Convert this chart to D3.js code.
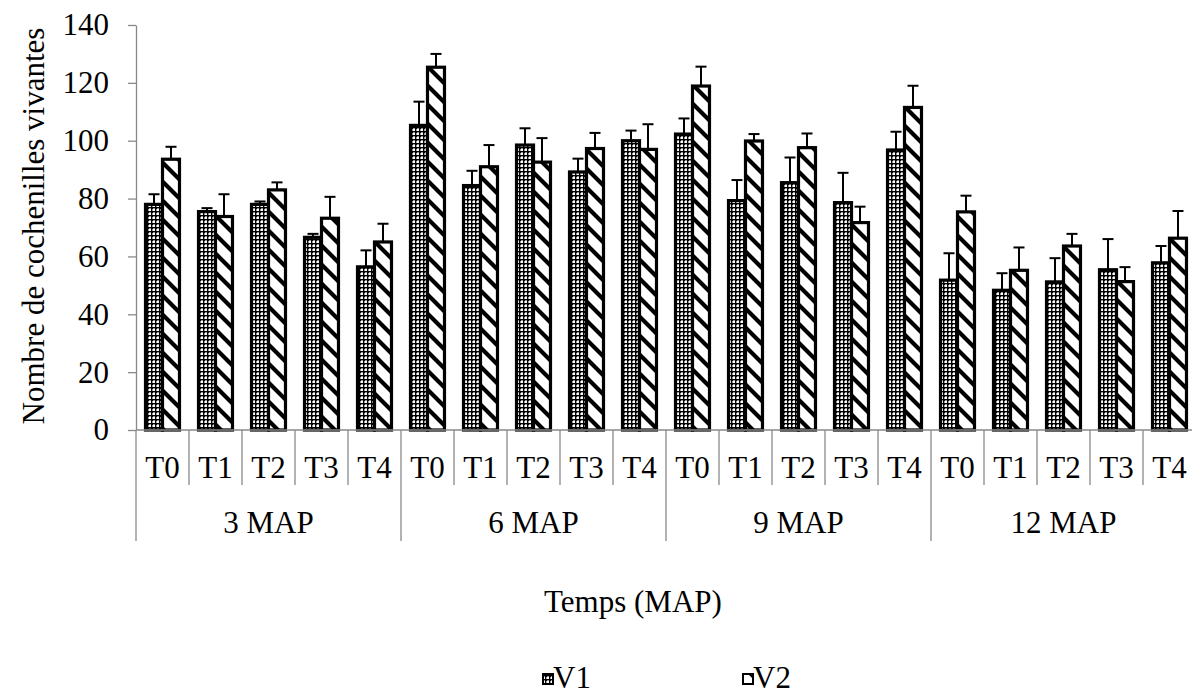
<!DOCTYPE html>
<html><head><meta charset="utf-8">
<script src="https://cdn.jsdelivr.net/npm/d3@7"></script>
<style>
html,body{margin:0;padding:0;background:#fff;overflow:hidden}
text{font-family:"Liberation Serif","Times New Roman",serif;fill:#000}
</style></head>
<body>
<svg id="c" width="1192" height="696"></svg>
<script>
const groups = ["3 MAP","6 MAP","9 MAP","12 MAP"];
const treatments = ["T0","T1","T2","T3","T4"];
const series = ["V1","V2"];
const v1 = [78,75.5,78,66.6,56.4, 105.3,84.5,98.5,89.2,100, 102.3,79.3,85.5,78.6,96.8, 51.8,48.3,51.2,55.4,57.8];
const v1err = [3.5,1.2,1,1.2,5.7, 8.2,5.1,5.8,4.6,3.5, 5.4,7.1,8.7,10.3,6.3, 9.3,5.9,8.2,10.6,5.8];
const v2 = [93.6,73.8,83,73.2,65, 125.4,91,92.6,97.3,97, 118.9,99.9,97.6,71.7,111.5, 75.4,55.2,63.6,51.3,66.3];
const v2err = [4.3,7.7,2.6,7.4,6.3, 4.6,7.5,8.3,5.4,8.7, 6.7,2.4,4.9,5.5,7.5, 5.6,7.9,4.2,5,9.4];
const yTicks = [0,20,40,60,80,100,120,140];

const cats = [];
groups.forEach((g,gi)=>treatments.forEach((t,ti)=>cats.push({g,t,i:gi*5+ti})));
const rows = cats.map((c,i)=>({...c, V1:v1[i], V1e:v1err[i], V2:v2[i], V2e:v2err[i]}));

const FS = "31px";
const svg = d3.select("#c");
const defs = svg.append("defs");
// V1 pattern: small check/dots
const p1 = defs.append("pattern").attr("id","pV1").attr("patternUnits","userSpaceOnUse").attr("width",4).attr("height",4);
p1.append("rect").attr("width",4).attr("height",4).attr("fill","#000");
p1.append("rect").attr("x",1).attr("y",1).attr("width",2).attr("height",2).attr("fill","#fff");
p1.append("rect").attr("x",1).attr("y",0).attr("width",2).attr("height",1).attr("fill","#9a9a9a");
p1.append("rect").attr("x",0).attr("y",1).attr("width",1).attr("height",2).attr("fill","#9a9a9a");
// V2 pattern: "\" diagonal stripes
const P=19;
const p2 = defs.append("pattern").attr("id","pV2").attr("patternUnits","userSpaceOnUse").attr("width",P).attr("height",P);
p2.append("rect").attr("width",P).attr("height",P).attr("fill","#fff");
p2.append("path").attr("d",`M${-P/2},${P/2} L${P/2},${P*1.5} M0,0 L${P},${P} M${P/2},${-P/2} L${P*1.5},${P/2}`)
  .attr("stroke","#000").attr("stroke-width",4.2);

const x = d3.scaleBand().domain(d3.range(20)).range([136,1196]).padding(0);
const xs = d3.scaleBand().domain(series).range([0,x.bandwidth()]).paddingInner(0).paddingOuter(0.56);
const y = d3.scaleLinear().domain([0,140]).range([430,25]);
const axisColor = "#898989";

// y axis
const ya = svg.append("g").attr("transform","translate(136,0)")
  .call(d3.axisLeft(y).tickValues(yTicks).tickSize(8).tickSizeOuter(0).tickPadding(19));
ya.select(".domain").attr("stroke",axisColor).attr("stroke-width",1.3);
ya.selectAll(".tick line").attr("stroke",axisColor).attr("stroke-width",1.3);
ya.selectAll(".tick text").style("font-size",FS).style("font-family","Liberation Serif").attr("fill","#000");

// bars
const gBars = svg.append("g");
series.forEach(s=>{
  gBars.selectAll(null).data(rows).enter().append("rect")
    .attr("x",d=>x(d.i)+xs(s))
    .attr("y",d=>y(d[s]))
    .attr("width",xs.bandwidth())
    .attr("height",d=>y(0)-y(d[s]))
    .attr("fill",`url(#p${s})`)
    .attr("stroke","#000").attr("stroke-width",3.2);
});
// error bars
series.forEach(s=>{
  const cx = d=>x(d.i)+xs(s)+xs.bandwidth()/2;
  gBars.selectAll(null).data(rows).enter().append("line")
    .attr("x1",cx).attr("x2",cx)
    .attr("y1",d=>y(d[s])).attr("y2",d=>y(d[s]+d[s+"e"]))
    .attr("stroke","#000").attr("stroke-width",2);
  gBars.selectAll(null).data(rows).enter().append("line")
    .attr("x1",d=>cx(d)-5.5).attr("x2",d=>cx(d)+5.5)
    .attr("y1",d=>y(d[s]+d[s+"e"])).attr("y2",d=>y(d[s]+d[s+"e"]))
    .attr("stroke","#000").attr("stroke-width",2);
});

// x axis
const xa = svg.append("g");
xa.append("line").attr("x1",136).attr("x2",1196).attr("y1",y(0)).attr("y2",y(0)).attr("stroke",axisColor).attr("stroke-width",1.3);
xa.append("line").attr("x1",136).attr("x2",136).attr("y1",y(0)).attr("y2",541).attr("stroke",axisColor).attr("stroke-width",1.3);
d3.range(1,21).forEach(i=>{
  const xx = x.range()[0] + i*x.step();
  xa.append("line").attr("x1",xx).attr("x2",xx).attr("y1",y(0)).attr("y2", i%5===0?541:485)
    .attr("stroke",axisColor).attr("stroke-width",1.3);
});
xa.selectAll(null).data(rows).enter().append("text")
  .attr("x",d=>x(d.i)+x.bandwidth()/2).attr("y",478).attr("text-anchor","middle")
  .style("font-size",FS).text(d=>d.t);
xa.selectAll(null).data(groups).enter().append("text")
  .attr("x",(g,gi)=>x(gi*5)+x.step()*2.5).attr("y",533).attr("text-anchor","middle")
  .style("font-size",FS).text(g=>g);

// titles
svg.append("text").attr("x",633).attr("y",612).attr("text-anchor","middle").style("font-size",FS).text("Temps (MAP)");
svg.append("text").attr("transform","translate(44,226) rotate(-90)").attr("text-anchor","middle").style("font-size",FS).text("Nombre de cochenilles vivantes");

// legend
const legX = [542,742];
series.forEach((s,i)=>{
  const g = svg.append("g").attr("transform",`translate(${legX[i]},0)`);
  g.append("rect").attr("x",1).attr("y",674).attr("width",10).attr("height",10).attr("fill",`url(#p${s})`).attr("stroke","#000").attr("stroke-width",2);
  g.append("text").attr("x",11).attr("y",688).style("font-size",FS).text(s);
});
</script>
</body></html>
